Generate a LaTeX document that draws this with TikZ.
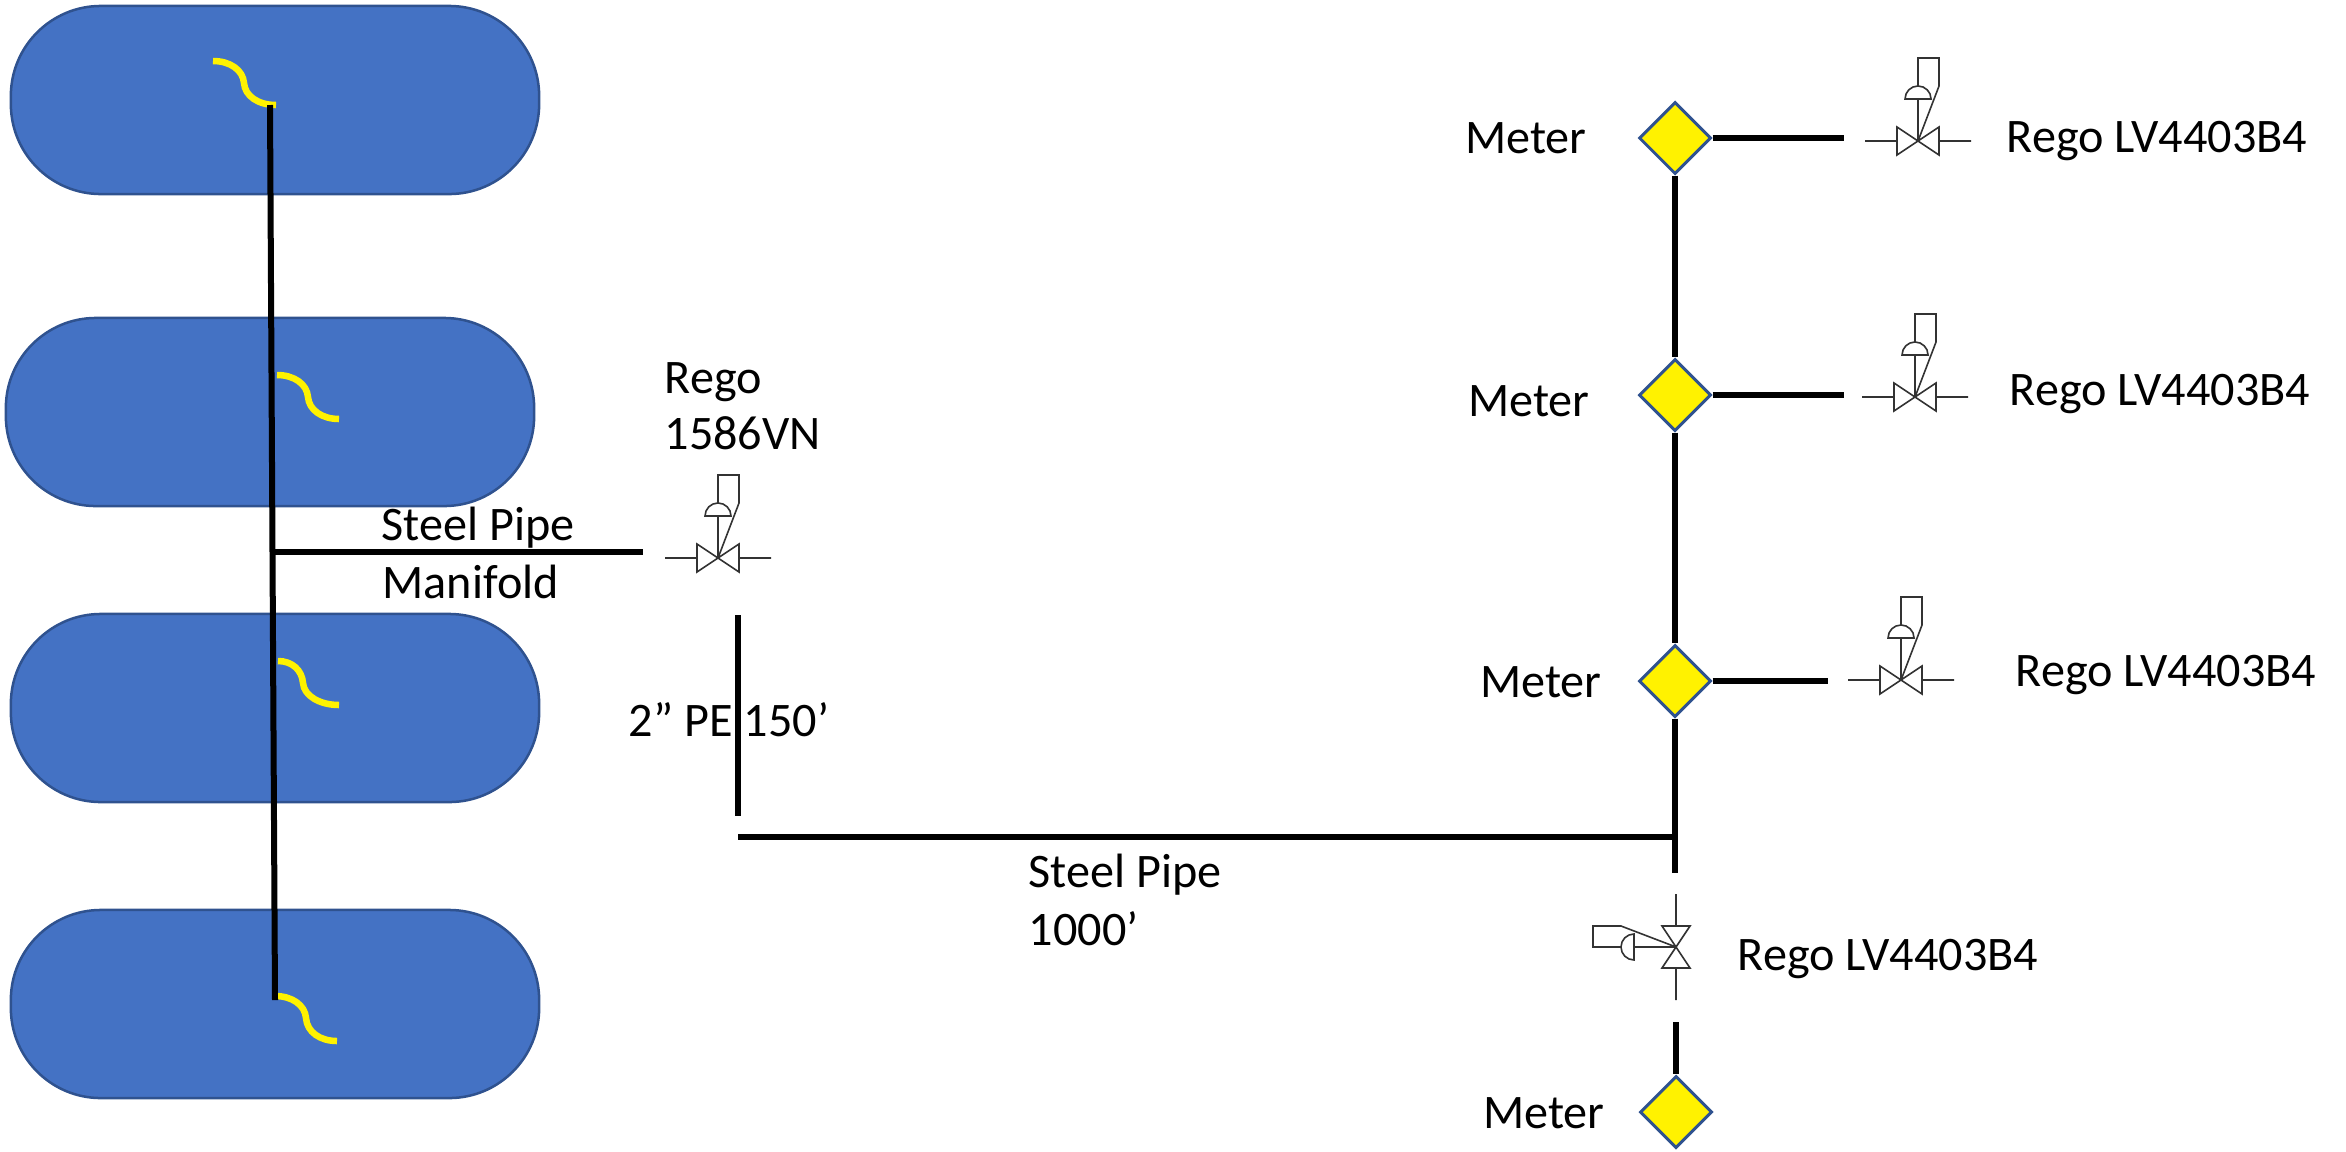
\documentclass[tikz,border=0pt]{standalone}
\usepackage{fontspec}
\setmainfont{Carlito}
\usetikzlibrary{shapes.geometric}

\definecolor{tankblue}{HTML}{4472C4}
\definecolor{edgeblue}{HTML}{2F528F}

\tikzset{
    tank/.style={draw=edgeblue, line width=0.025cm, fill=tankblue, minimum width=5.28cm, minimum height=1.88cm, rounded corners=0.9cm, inner sep=0},
    meter/.style={diamond, draw=edgeblue, line width=0.03cm, fill=yellow, minimum size=0.72cm, inner sep=0},
    pipe/.style={line width=0.06cm},
    hose/.style={yellow, line width=0.065cm},
    lbl/.style={font=\fontsize{13.7pt}{16pt}\selectfont, inner sep=0},
    valve/.pic={
        \draw[line width=0.016cm, black!80, line join=miter]
            (-53,0) -- (-21,0) (21,0) -- (53,0)
            (-21,-14) -- (21,14) -- (21,-14) -- (-21,14) -- cycle
            (0,0) -- (0,-42)
            (-13,-42) arc[start angle=180, end angle=0, radius=0.13cm] -- cycle
            (0,-55) -- (0,-83) -- (21,-83) -- (21,-55) -- (0,0);
    }
}

\begin{document}
\begin{tikzpicture}[x=0.01cm, y=-0.01cm]
    \useasboundingbox (0,0) rectangle (2346,1151);

    % tanks
    \node[tank] (tankA) at (275,100) {};
    \node[tank] (tankB) at (270,412) {};
    \node[tank] (tankC) at (275,708) {};
    \node[tank] (tankD) at (275,1004) {};

    % hoses inside the tanks
    \draw[hose] (213,61) .. controls (230,61) and (243,70) .. (244,83) .. controls (245,96) and (258,105) .. (276,105);
    \draw[hose] (277,375) .. controls (294,375) and (307,384) .. (308,397) .. controls (309,410) and (322,419) .. (339,419);
    \draw[hose] (278,661) .. controls (292,661) and (302,670) .. (303,683) .. controls (304,696) and (320,705) .. (339,705);
    \draw[hose] (275,996) .. controls (292,996) and (305,1005) .. (306,1018) .. controls (307,1032) and (320,1041) .. (337,1041);

    % manifold
    \coordinate (manTop) at (270,105);
    \coordinate (manBot) at (275,1000);
    \coordinate (manTee) at (273,552);
    \coordinate (manEnd) at (643,552);
    \draw[pipe] (manTop) -- (manBot);
    \draw[pipe] (manTee) -- (manEnd);

    % PE and long steel run
    \coordinate (peTop) at (738,615);
    \coordinate (peBot) at (738,816);
    \coordinate (runStart) at (738,837);
    \coordinate (runEnd) at (1675,837);
    \draw[pipe] (peTop) -- (peBot);
    \draw[pipe] (runStart) -- (runEnd);

    % meters
    \node[meter] (meterA) at (1675,138) {};
    \node[meter] (meterB) at (1675,395) {};
    \node[meter] (meterC) at (1675,681) {};
    \node[meter] (meterD) at (1676,1112) {};

    % risers
    \coordinate (riseEnd) at (1675,873);
    \coordinate (dropTop) at (1676,1022);
    \draw[pipe] (meterA) -- (meterB);
    \draw[pipe] (meterB) -- (meterC);
    \draw[pipe] (meterC) -- (riseEnd);
    \draw[pipe] (dropTop) -- (meterD);

    % branches
    \coordinate (branchA) at (1844,138);
    \coordinate (branchB) at (1844,395);
    \coordinate (branchC) at (1828,681);
    \draw[pipe] (meterA.east) -- (branchA);
    \draw[pipe] (meterB.east) -- (branchB);
    \draw[pipe] (meterC.east) -- (branchC);

    % regulators
    \pic (valveM) at (718,558) {valve};
    \pic (valveA) at (1918,141) {valve};
    \pic (valveB) at (1915,397) {valve};
    \pic (valveC) at (1901,680) {valve};
    \pic[rotate=90] (valveD) at (1676,947) {valve};

    % labels
    \node[lbl] (textA) at (1526,138) {Meter};
    \node[lbl] (textB) at (1529,401) {Meter};
    \node[lbl] (textC) at (1541,682) {Meter};
    \node[lbl] (textD) at (1544,1113) {Meter};
    \node[lbl] (regoA) at (2157,141) {Rego LV4403B4};
    \node[lbl] (regoB) at (2160,394) {Rego LV4403B4};
    \node[lbl] (regoC) at (2166,675) {Rego LV4403B4};
    \node[lbl] (regoD) at (1888,959) {Rego LV4403B4};
    \node[lbl, anchor=west] (regoM) at (664,382) {Rego};
    \node[lbl, anchor=west] (regoN) at (664,433) {1586VN};
    \node[lbl, anchor=west] (steelA) at (381,528) {Steel Pipe};
    \node[lbl, anchor=west] (maniA) at (382,582) {Manifold};
    \node[lbl] (peText) at (729,720) {2” PE 150’};
    \node[lbl, anchor=west] (steelB) at (1028,875) {Steel Pipe};
    \node[lbl, anchor=west] (steelC) at (1028,929) {1000’};
\end{tikzpicture}
\end{document}
